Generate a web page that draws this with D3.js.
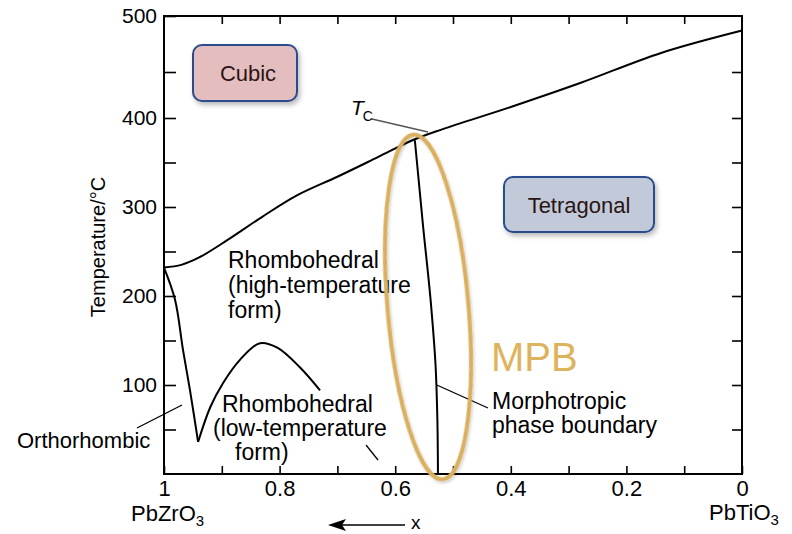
<!DOCTYPE html>
<html><head><meta charset="utf-8">
<script src="https://cdn.jsdelivr.net/npm/d3@7"></script>
<style>
html,body{margin:0;padding:0;background:#fff;}
svg{display:block;font-family:"Liberation Sans",Arial,Helvetica,sans-serif;}
</style></head>
<body><svg id="chart" width="792" height="534"></svg>
<script>
// ---- data ----
const xTickValues = [1, 0.8, 0.6, 0.4, 0.2, 0];
const xTickLabels = ["1", "0.8", "0.6", "0.4", "0.2", "0"];
const xMinorTicks = [1, 0.9, 0.8, 0.7, 0.6, 0.5, 0.4, 0.3, 0.2, 0.1, 0];
const yTickValues = [100, 200, 300, 400, 500];
const yMinorTicks = [50, 100, 150, 200, 250, 300, 350, 400, 450, 500];

// Curie temperature line (cubic boundary)
const tcX = [1, 0.97, 0.94, 0.89, 0.83, 0.77, 0.70, 0.63, 0.57, 0.52, 0.40, 0.28, 0.14, 0];
const tcT = [232, 235, 243, 263, 289, 313, 334, 356, 375, 387, 412, 438, 467, 487];
// Orthorhombic / rhombohedral boundary
const orthoX = [1, 0.981, 0.967, 0.955, 0.941];
const orthoT = [232, 196, 139, 94, 36];
// Low-temperature rhombohedral boundary
const rlowX = [0.941, 0.920, 0.898, 0.869, 0.834, 0.804, 0.765, 0.730];
const rlowT = [36, 75, 102, 128, 147, 142, 120, 94];
// Morphotropic phase boundary
const mpbX = [0.566, 0.552, 0.538, 0.530, 0.527, 0.526];
const mpbT = [375, 280, 190, 120, 60, 0];

const svg = d3.select("#chart");
const x = d3.scaleLinear().domain([1, 0]).range([164, 742]);
const y = d3.scaleLinear().domain([0, 400, 450, 500]).range([474, 118, 72, 16]);

// filters
const defs = svg.append("defs");
const f = defs.append("filter").attr("id", "shadow").attr("x", "-20%").attr("y", "-20%").attr("width", "150%").attr("height", "160%");
f.append("feDropShadow").attr("dx", 2).attr("dy", 3).attr("stdDeviation", 2.5).attr("flood-color", "#000").attr("flood-opacity", 0.28);
const f2 = defs.append("filter").attr("id", "shadow2").attr("x", "-30%").attr("y", "-10%").attr("width", "160%").attr("height", "120%");
f2.append("feDropShadow").attr("dx", 1).attr("dy", 2).attr("stdDeviation", 1.5).attr("flood-color", "#000").attr("flood-opacity", 0.2);

const font = 22;

// frame
svg.append("rect").attr("x", x(1)).attr("y", y(500)).attr("width", x(0) - x(1)).attr("height", y(0) - y(500))
  .attr("fill", "none").attr("stroke", "#000").attr("stroke-width", 2);

// axes
const gLeft = svg.append("g").attr("transform", `translate(${x(1)},0)`)
  .call(d3.axisLeft(y).tickValues(yMinorTicks).tickSize(-12).tickPadding(7)
    .tickFormat(d => yTickValues.includes(d) ? String(d) : ""));
const gRight = svg.append("g").attr("transform", `translate(${x(0)},0)`)
  .call(d3.axisRight(y).tickValues(yMinorTicks.filter(d => d < 500)).tickSize(-10).tickFormat(""));
const gBottom = svg.append("g").attr("transform", `translate(0,${y(0)})`)
  .call(d3.axisBottom(x).tickValues(xMinorTicks).tickSize(-8).tickPadding(6)
    .tickFormat(d => { const i = xTickValues.findIndex(v => Math.abs(v - d) < 1e-9); return i >= 0 ? xTickLabels[i] : ""; }));
const gTop = svg.append("g").attr("transform", `translate(0,${y(500)})`)
  .call(d3.axisTop(x).tickValues(xMinorTicks.filter(d => d > 0 && d < 1)).tickSize(-8).tickFormat(""));
[gLeft, gRight, gBottom, gTop].forEach(g => {
  g.select(".domain").remove();
  g.selectAll(".tick line").attr("stroke", "#000").attr("stroke-width", 1.6);
  g.selectAll("text").attr("font-size", font).attr("fill", "#000");
  g.attr("font-family", null).attr("font-size", null);
});
gLeft.selectAll("text").attr("font-size", 21);

// curves
const line = d3.line().x(d => x(d[0])).y(d => y(d[1])).curve(d3.curveCatmullRom.alpha(0.5));
const lineV = d3.line().x(d => x(d[0])).y(d => y(d[1])).curve(d3.curveMonotoneY);
const zip = (a, b) => a.map((v, i) => [v, b[i]]);
const curves = svg.append("g").attr("fill", "none").attr("stroke", "#000").attr("stroke-width", 2);
curves.append("path").attr("d", line(zip(tcX, tcT)));
curves.append("path").attr("d", line(zip(orthoX, orthoT)));
curves.append("path").attr("d", line(zip(rlowX, rlowT)));
curves.append("path").attr("d", lineV(zip(mpbX, mpbT)));

// leader lines
const leaders = svg.append("g").attr("stroke-width", 1.3).attr("fill", "none");
leaders.append("line").attr("x1", 372).attr("y1", 119).attr("x2", 428).attr("y2", 132).attr("stroke", "#555");
leaders.append("line").attr("x1", x(0.528)).attr("y1", y(100)).attr("x2", 488).attr("y2", 408).attr("stroke", "#000");
leaders.append("line").attr("x1", 137).attr("y1", 428).attr("x2", 182).attr("y2", 405).attr("stroke", "#000");
leaders.append("line").attr("x1", 366).attr("y1", 445).attr("x2", 378).attr("y2", 460).attr("stroke", "#000");

// labels
const txt = (s, px, py, opts = {}) => svg.append("text").attr("x", px).attr("y", py)
  .attr("font-size", opts.size || font).attr("fill", opts.fill || "#000")
  .attr("text-anchor", opts.anchor || "start").text(s);
txt("Rhombohedral", 228, 268, {size: 23});
txt("(high-temperature", 228, 293, {size: 23});
txt("form)", 228, 318, {size: 23});
txt("Rhombohedral", 222, 412, {size: 23});
txt("(low-temperature", 213, 436, {size: 23});
txt("form)", 235, 460, {size: 23});
txt("Orthorhombic", 17, 448);
txt("Morphotropic", 492, 409, {size: 23});
txt("phase boundary", 492, 433, {size: 23});

// Tc label
const tc = svg.append("text").attr("x", 351).attr("y", 115).attr("font-size", 21);
tc.append("tspan").attr("font-style", "italic").text("T");
tc.append("tspan").attr("font-size", 14).attr("dy", 6).attr("dx", -1).text("C");

// compound labels
const pz = svg.append("text").attr("x", 131).attr("y", 521).attr("font-size", font);
pz.append("tspan").text("PbZrO");
pz.append("tspan").attr("font-size", 15).attr("dy", 5).text("3");
const pt = svg.append("text").attr("x", 709).attr("y", 520).attr("font-size", font);
pt.append("tspan").text("PbTiO");
pt.append("tspan").attr("font-size", 15).attr("dy", 5).text("3");

// arrow + x
svg.append("line").attr("x1", 338).attr("y1", 525).attr("x2", 405).attr("y2", 525).attr("stroke", "#000").attr("stroke-width", 1.6);
svg.append("path").attr("d", "M328,525 L346,519 L342,525 L346,531 Z").attr("fill", "#000");
txt("x", 411, 529, {size: 19});

// y title
svg.append("text").attr("transform", "translate(105,247) rotate(-90)").attr("text-anchor", "middle")
  .attr("font-size", 20).text("Temperature/°C");

// phase boxes
const box = (bx, by, bw, bh, fill, label, tx) => {
  svg.append("rect").attr("x", bx).attr("y", by).attr("width", bw).attr("height", bh).attr("rx", 9)
    .attr("fill", fill).attr("stroke", "#2C4C8C").attr("stroke-width", 2).attr("filter", "url(#shadow)");
  svg.append("text").attr("x", tx).attr("y", by + bh / 2 + 8).attr("text-anchor", "middle")
    .attr("font-size", 22).attr("fill", "#2a1414").text(label);
};
box(193, 45, 104, 56, "#E4BEBF", "Cubic", 248);
box(504, 177, 150, 55, "#C2CAD9", "Tetragonal", 579);

// MPB ellipse
svg.append("ellipse").attr("cx", 0).attr("cy", 0).attr("rx", 40.5).attr("ry", 173)
  .attr("transform", "translate(428,307) rotate(-4.9)")
  .attr("fill", "none").attr("stroke", "#DAB060").attr("stroke-width", 4).attr("filter", "url(#shadow2)");
txt("MPB", 491, 371, {size: 40, fill: "#DDB35E"});
</script></body></html>
